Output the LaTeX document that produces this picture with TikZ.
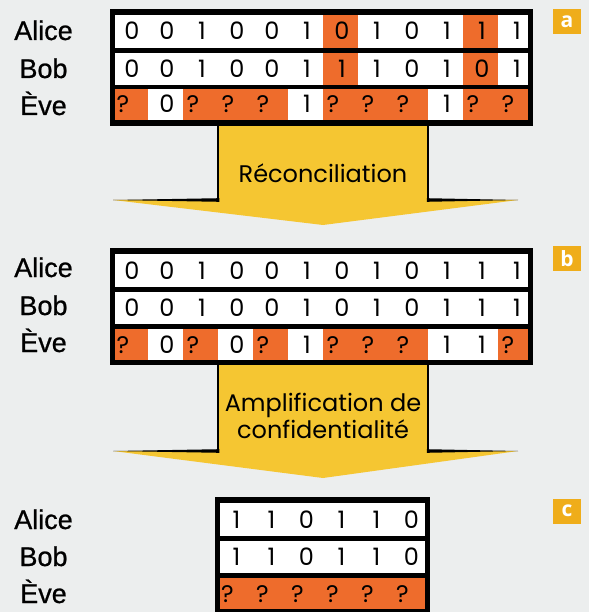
\documentclass[tikz,border=0pt]{standalone}
\usepackage{fontspec}
\setmainfont{Liberation Sans}
\newfontfamily\digfont{Poppins}
\newfontfamily\labfont[FakeBold=0.8]{Liberation Sans}
\newfontfamily\badgefont{Open Sans}
\definecolor{bg}{RGB}{236,238,238}
\definecolor{orng}{RGB}{238,108,44}
\definecolor{yel}{RGB}{245,198,50}
\definecolor{gold}{RGB}{239,173,26}
\def\qm{?}
\def\oo{o}
\tikzset{
  lab/.style={font=\labfont\fontsize{27}{27}\selectfont, anchor=base, inner sep=0pt},
  bit/.style={font=\digfont\fontsize{24}{24}\selectfont, anchor=base, inner sep=0pt},
  badge/.style={fill=gold, text=white, font=\badgefont\bfseries\fontsize{21}{21}\selectfont, minimum width=28pt, minimum height=25pt, inner sep=0pt},
  arrowtxt/.style={font=\digfont\fontsize{24}{27}\selectfont, align=center, inner sep=0pt},
  framebox/.style={fill=black},
  rowbox/.style={fill=white},
  ocell/.style={fill=orng},
  yarrow/.style={fill=yel},
  shaftline/.style={line width=2.5pt, line cap=butt},
}
\newcommand{\bitrow}[7]{%
  \fill[rowbox] (#5,#2) rectangle (#6,#3);
  \foreach \ch/\cl [count=\i] in {#7} {
    \pgfmathsetmacro\xl{max(#4+35*(\i-1),#5)}
    \pgfmathsetmacro\xr{min(#4+35*\i,#6)}
    \pgfmathsetmacro\xc{#4+35*(\i-1)+17.5}
    \pgfmathsetmacro\yb{(#2+#3)/2+8.5}
    \ifx\cl\oo \fill[ocell] (\xl,#2) rectangle (\xr,#3); \fi
    \ifx\ch\qm \node[bit] (#1\i) at (\xc-7,\yb) {?}; \else \node[bit] (#1\i) at (\xc+2,\yb) {\ch}; \fi
  }
}
\newcommand{\bigarrow}[3]{% #1 top, #2 wing y, #3 tip y
  \fill[yarrow] (218,#1) -- (218,#2) -- (113,#2) -- (323,#3) -- (518,#2) -- (428,#2) -- (428,#1) -- cycle;
  \draw[shaftline] (218,#1) -- (218,#2);
  \draw[shaftline] (428,#1) -- (428,#2);
  \fill (219.25,#2-1.8) -- (113,#2) -- (219.25,#2+1.8) -- cycle;
  \fill (426.75,#2-1.8) -- (518,#2) -- (426.75,#2+1.8) -- cycle;
}
\begin{document}
\begin{tikzpicture}[x=1pt,y=-1pt]
\useasboundingbox (0,0) rectangle (589,612);
\fill[bg] (0,0) rectangle (589,612);

% arrows
\bigarrow{126}{200}{225}
\node[arrowtxt] (rec) at (323,173) {Réconciliation};
\bigarrow{365}{451}{478}
\node[arrowtxt] (amp) at (323,416) {Amplification de\\confidentialité};

% panel a
\fill[framebox] (110,9) rectangle (533,126);
\bitrow{aA}{15}{48}{112.5}{115}{528}{0/w,0/w,1/w,0/w,0/w,1/w,0/o,1/w,0/w,1/w,1/o,1/w}
\bitrow{aB}{53}{85}{112.5}{115}{528}{0/w,0/w,1/w,0/w,0/w,1/w,1/o,1/w,0/w,1/w,0/o,1/w}
\bitrow{aE}{89}{120}{112.5}{115}{528}{?/o,0/w,?/o,?/o,?/o,1/w,?/o,?/o,?/o,1/w,?/o,?/o}
\node[lab] (laA) at (43.5,40) {Alice};
\node[lab] (laB) at (43.5,78) {Bob};
\node[lab] (laE) at (43.5,115) {Ève};
\node[badge] (ba) at (567,22) {a};

% panel b
\fill[framebox] (110,248) rectangle (533,365);
\bitrow{bA}{254}{287}{112.5}{115}{528}{0/w,0/w,1/w,0/w,0/w,1/w,0/w,1/w,0/w,1/w,1/w,1/w}
\bitrow{bB}{292}{324}{112.5}{115}{528}{0/w,0/w,1/w,0/w,0/w,1/w,0/w,1/w,0/w,1/w,1/w,1/w}
\bitrow{bE}{329}{360}{112.5}{115}{528}{?/o,0/w,?/o,0/w,?/o,1/w,?/o,?/o,?/o,1/w,1/w,?/o}
\node[lab] (lbA) at (43.5,277) {Alice};
\node[lab] (lbB) at (43.5,315) {Bob};
\node[lab] (lbE) at (43.5,352) {Ève};
\node[badge] (bb) at (567,258.5) {b};

% panel c
\fill[framebox] (214.5,497) rectangle (429.5,616);
\bitrow{cA}{503}{536}{217}{219.5}{424.5}{1/w,1/w,0/w,1/w,1/w,0/w}
\bitrow{cB}{541}{573}{217}{219.5}{424.5}{1/w,1/w,0/w,1/w,1/w,0/w}
\bitrow{cE}{578}{609}{217}{219.5}{424.5}{?/o,?/o,?/o,?/o,?/o,?/o}
\node[lab] (lcA) at (43.5,529) {Alice};
\node[lab] (lcB) at (43.5,566) {Bob};
\node[lab] (lcE) at (43.5,603) {Ève};
\node[badge] (bc) at (567,511) {c};
\end{tikzpicture}
\end{document}
